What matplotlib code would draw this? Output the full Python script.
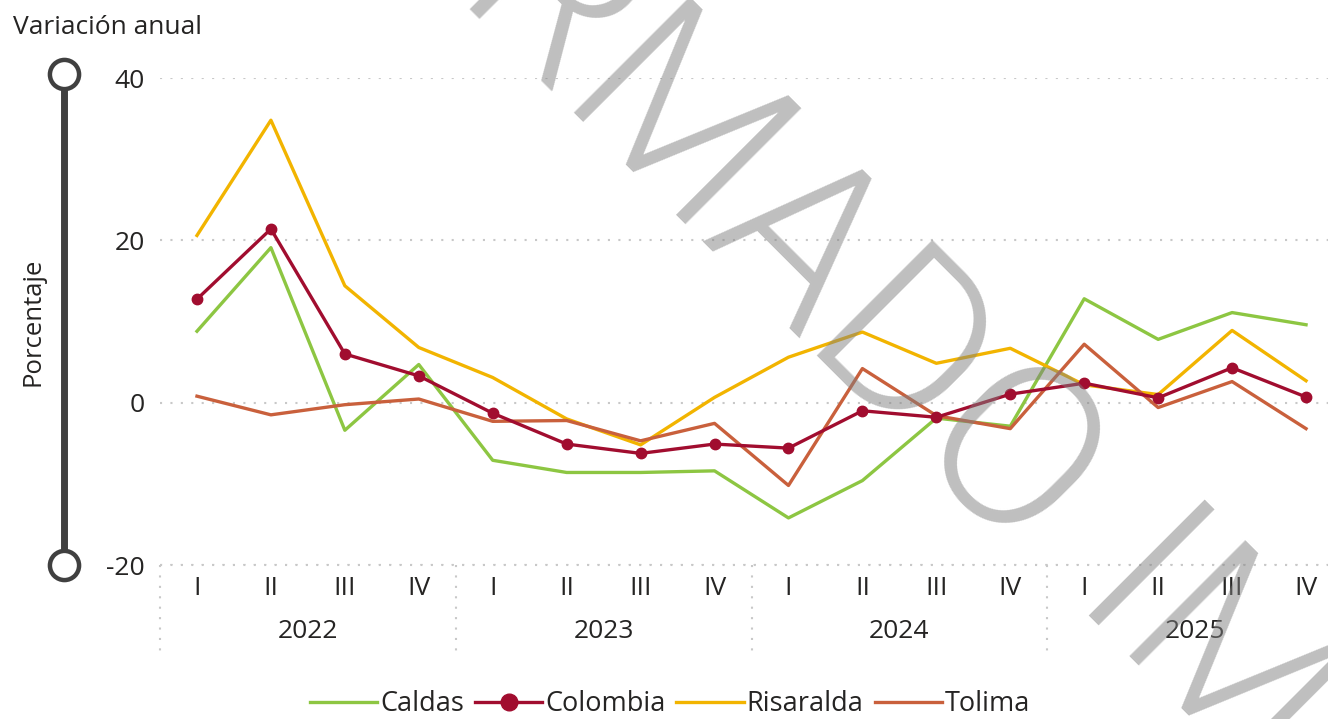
import matplotlib
matplotlib.use("Agg")
import matplotlib.pyplot as plt
from matplotlib.lines import Line2D

# datos (variacion anual, %)
quarters = ["I", "II", "III", "IV"] * 4
years = ["2022", "2023", "2024", "2025"]

caldas = [8.8, 19.1, -3.4, 4.7, -7.1, -8.6, -8.6, -8.4, -14.2, -9.6, -1.9, -2.9, 12.8, 7.8, 11.1, 9.6]
colombia = [12.75, 21.4, 6.0, 3.3, -1.3, -5.1, -6.25, -5.1, -5.6, -1.0, -1.8, 1.05, 2.4, 0.6, 4.3, 0.7]
risaralda = [20.6, 34.8, 14.4, 6.8, 3.1, -2.0, -5.2, 0.65, 5.6, 8.7, 4.85, 6.7, 2.2, 1.0, 8.9, 2.7]
tolima = [0.8, -1.5, -0.25, 0.45, -2.3, -2.2, -4.7, -2.55, -10.2, 4.2, -1.6, -3.2, 7.2, -0.6, 2.6, -3.2]

series = ["Caldas", "Colombia", "Risaralda", "Tolima"]
colors = ["#8dc642", "#a10d2f", "#f2b400", "#c9603c"]

plt.rcParams["font.family"] = ["Open Sans", "DejaVu Sans"]
txt = "#252423"
grid_c = "#c8c8c8"

W, H = 1328, 719
fig = plt.figure(figsize=(W / 100, H / 100), dpi=100)
ax = fig.add_axes([160 / W, 1 - 565 / H, (1343 - 160) / W, (565 - 78) / H])

x = list(range(len(quarters)))
for name, vals, c in zip(series, [caldas, colombia, risaralda, tolima], colors):
    if name == "Colombia":
        ax.plot(x, vals, color=c, lw=2.4, marker="o", ms=7.5, label=name, zorder=4)
    else:
        ax.plot(x, vals, color=c, lw=2.4, label=name, zorder=3)

ax.set_xlim(-0.5, 15.5)
ax.set_ylim(-20, 40)
ax.set_yticks([-20, 0, 20, 40])
ax.set_yticklabels(["-20", "0", "20", "40"])
ax.tick_params(axis="y", length=0, pad=11, labelsize=19, labelcolor=txt)
ax.set_xticks(x)
ax.set_xticklabels(quarters)
ax.tick_params(axis="x", length=0, pad=8, labelsize=19, labelcolor=txt)
ax.grid(axis="y", color=grid_c, lw=1.5, linestyle=(0, (1, 4)))
for s in ["top", "right", "left", "bottom"]:
    ax.spines[s].set_visible(False)
ax.axhline(-20, color=grid_c, lw=1.5, linestyle=(0, (1, 4)), clip_on=False)

trans = ax.get_xaxis_transform()
for i, yr in enumerate(years):
    ax.text(i * 4 + 1.5, -0.137, yr, transform=trans, ha="center", va="center",
            fontsize=19, color=txt)
    ax.plot([i * 4 - 0.5, i * 4 - 0.5], [0, -0.185], transform=trans, color=grid_c,
            lw=1.5, linestyle=(0, (1, 4)), clip_on=False)

# marca de agua (dos trozos para fijar la "O" y la "I")
wm = dict(rotation=-45, rotation_mode="anchor", va="baseline", fontsize=166,
          fontweight=300, color="#808080", alpha=0.5, family=["Roboto", "Open Sans"],
          zorder=10)
fig.text(1013 / W, 1 - 573 / H, "FIRMADO", ha="right", **wm)
fig.text(1064 / W, 1 - 615 / H, "IMAGEN", ha="left", **wm)

# deslizador del eje
fig.add_artist(Line2D([64 / W, 64 / W], [1 - 74 / H, 1 - 565 / H], color="#404040", lw=5))
fig.add_artist(Line2D([64 / W, 64 / W], [1 - 74 / H, 1 - 565 / H], ls="none", marker="o",
                      ms=21, mfc="white", mec="#404040", mew=3.2))

fig.text(13 / W, 1 - 27 / H, "Variación anual", ha="left", va="center", fontsize=19, color=txt)
fig.text(33 / W, 1 - 322 / H, "Porcentaje", rotation=90, ha="center", va="center",
         fontsize=18.5, color=txt)

fig.legend(loc="center", bbox_to_anchor=(670 / W, 1 - 704 / H), ncol=4, frameon=False,
           fontsize=19.5, handlelength=2.5, handletextpad=0.1, columnspacing=0.4,
           markerscale=1.6, labelcolor=txt)

fig.savefig("out.png", dpi=100)
